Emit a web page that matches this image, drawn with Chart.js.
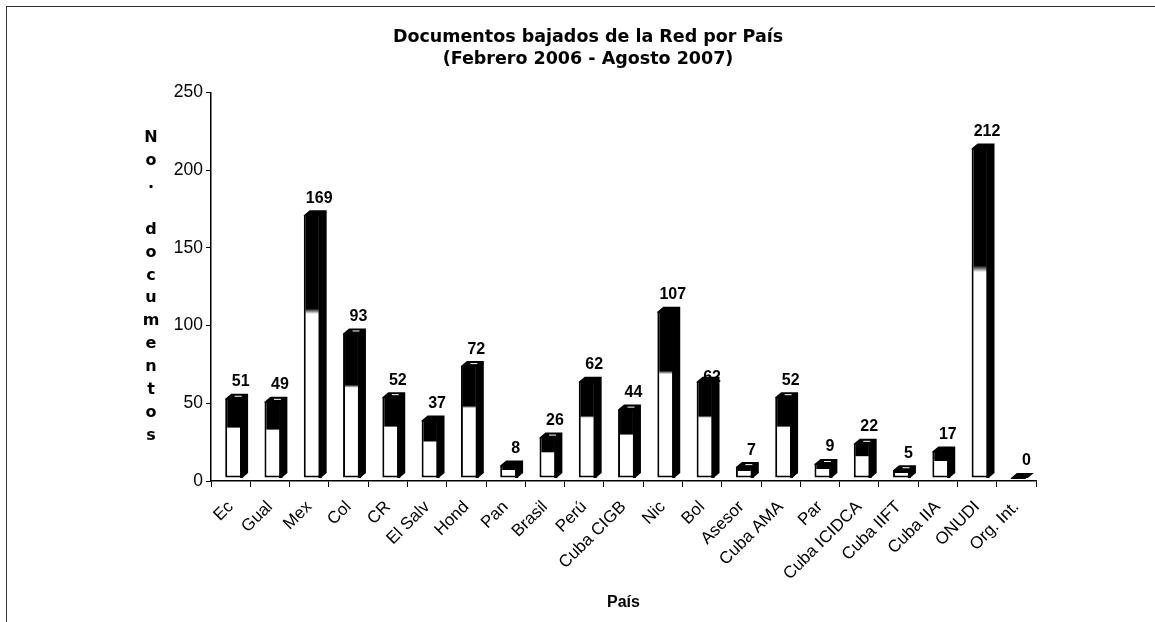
<!DOCTYPE html>
<html><head><meta charset="utf-8">
<style>
html,body{margin:0;padding:0;background:#fff;width:1155px;height:622px;overflow:hidden}
#frame{position:absolute;left:6px;top:6px;width:1149px;height:616px;border-left:1px solid #333;border-top:1px solid #333;box-sizing:border-box}
#c{position:absolute;left:0;top:0}
</style>
<script src="https://cdn.jsdelivr.net/npm/chart.js@4"></script>
</head><body><div id="frame"></div><canvas id="c" width="1155" height="622"></canvas>
<script>
const categories=["Ec","Gual","Mex","Col","CR","El Salv","Hond","Pan","Brasil","Perú","Cuba CIGB","Nic","Bol","Asesor","Cuba AMA","Par","Cuba ICIDCA","Cuba IIFT","Cuba IIA","ONUDI","Org. Int."];
const values=[51,49,169,93,52,37,72,8,26,62,44,107,62,7,52,9,22,5,17,212,0];
const yTicks=[0,50,100,150,200,250];
const titleLines=["Documentos bajados de la Red por País","(Febrero 2006 - Agosto 2007)"];
const yTitle="No. documentos";
const xTitle="País";
const shift={x:3,y:-3},depth={x:6,y:5};
const noGlint=["Mex","El Salv","Pan","Perú","Nic","Bol","Cuba IIA","ONUDI","Org. Int."];
const hiddenLabel="Bol";

const bar3d={id:'bar3d',
 beforeDatasetsDraw(chart){
  const ctx=chart.ctx;
  ctx.save();ctx.fillStyle='#000';ctx.textAlign='center';ctx.textBaseline='middle';
  ctx.font='bold 16px "Liberation Sans"';
  chart.getDatasetMeta(0).data.forEach((b,i)=>{
   const lift=categories[i]===hiddenLabel?-7:-20;
   ctx.fillText(String(values[i]),b.x+10,b.y+lift);
  });
  ctx.restore();
 },
 beforeDatasetDraw(chart){
  const ctx=chart.ctx,meta=chart.getDatasetMeta(0),base=chart.scales.y.getPixelForValue(0);
  ctx.save();ctx.translate(shift.x,shift.y);
  ctx.fillStyle='#000';
  meta.data.forEach(b=>{
   const l=b.x-b.width/2,r=b.x+b.width/2,t=b.y;
   ctx.beginPath();ctx.moveTo(l,t+1);ctx.lineTo(l,t);ctx.lineTo(l+depth.x,t-depth.y);ctx.lineTo(r+depth.x,t-depth.y);
   ctx.lineTo(r+depth.x,base-depth.y);ctx.lineTo(r,base);ctx.lineTo(r-2,base);ctx.lineTo(r-2,t+1);ctx.closePath();ctx.fill();
  });
 },
 afterDatasetDraw(chart){
  const ctx=chart.ctx,meta=chart.getDatasetMeta(0),base=chart.scales.y.getPixelForValue(0);
  meta.data.forEach((b,i)=>{
   const r=b.x+b.width/2;
   ctx.fillStyle='#000';
   ctx.fillRect(r-2,b.y,3,base-b.y);
   if(!noGlint.includes(categories[i])){
    ctx.fillStyle='#fff';
    ctx.fillRect(b.x+1,b.y-3,7,1);
   }
  });
  ctx.restore();
 },
 afterDraw(chart){
  const ctx=chart.ctx;
  ctx.save();ctx.fillStyle='#000';ctx.textAlign='center';ctx.textBaseline='middle';
  ctx.font='bold 16px "DejaVu Sans"';
  [...yTitle].forEach((ch,i)=>{ctx.fillText(ch,151,138+i*22.9);});
  ctx.restore();
 }};

new Chart(document.getElementById('c'),{
 type:'bar',
 data:{labels:categories,datasets:[{data:values,
  barPercentage:0.43,categoryPercentage:1,
  borderColor:'#000',borderWidth:{left:2,right:2,top:0,bottom:2},borderSkipped:false,
  backgroundColor(ctx){
   const c=ctx.chart,a=c.chartArea;
   if(!a)return '#fff';
   const s=c.scales.y,v=ctx.raw||0,y0=s.getPixelForValue(0),y1=s.getPixelForValue(v);
   if(y0===y1)return '#000';
   const g=c.ctx.createLinearGradient(0,y0,0,y1);
   g.addColorStop(0,'#fff');g.addColorStop(0.625,'#fff');g.addColorStop(0.645,'#000');g.addColorStop(1,'#000');
   return g;
  }}]},
 plugins:[bar3d],
 options:{responsive:false,animation:false,
  layout:{padding:{top:0,left:21,right:0,bottom:10}},
  plugins:{legend:{display:false},tooltip:{enabled:false},
   title:{display:true,text:titleLines,color:'#000',font:{family:'"DejaVu Sans"',size:17.5,weight:'bold',lineHeight:1.27},padding:{top:26,bottom:22}}},
  scales:{
   x:{type:'category',offset:true,afterFit(s){s.height=131;},
      grid:{display:true,drawOnChartArea:false,drawTicks:true,tickLength:6,color:'#000',lineWidth:1},
      border:{color:'#000',width:1.5},
      title:{display:true,text:xTitle,color:'#000',font:{family:'"Liberation Sans"',size:16,weight:'bold'},padding:{top:0,bottom:0}},
      ticks:{color:'#000',font:{family:'"Liberation Sans"',size:17},minRotation:45,maxRotation:45,autoSkip:false,padding:10}},
   y:{min:0,max:250,afterFit(s){s.width=190;},afterBuildTicks(s){s.ticks=yTicks.map(v=>({value:v}));},
      grid:{display:true,drawOnChartArea:false,drawTicks:true,tickLength:5,color:'#000',lineWidth:1},
      border:{color:'#000',width:1.5},
      ticks:{color:'#000',font:{family:'"Liberation Sans"',size:17.5},padding:3}},
   spacer:{position:'right',display:true,min:0,max:1,afterFit(s){s.width=119;},
      grid:{display:false},border:{display:false},ticks:{display:false}}
  }
 }
});
</script></body></html>
